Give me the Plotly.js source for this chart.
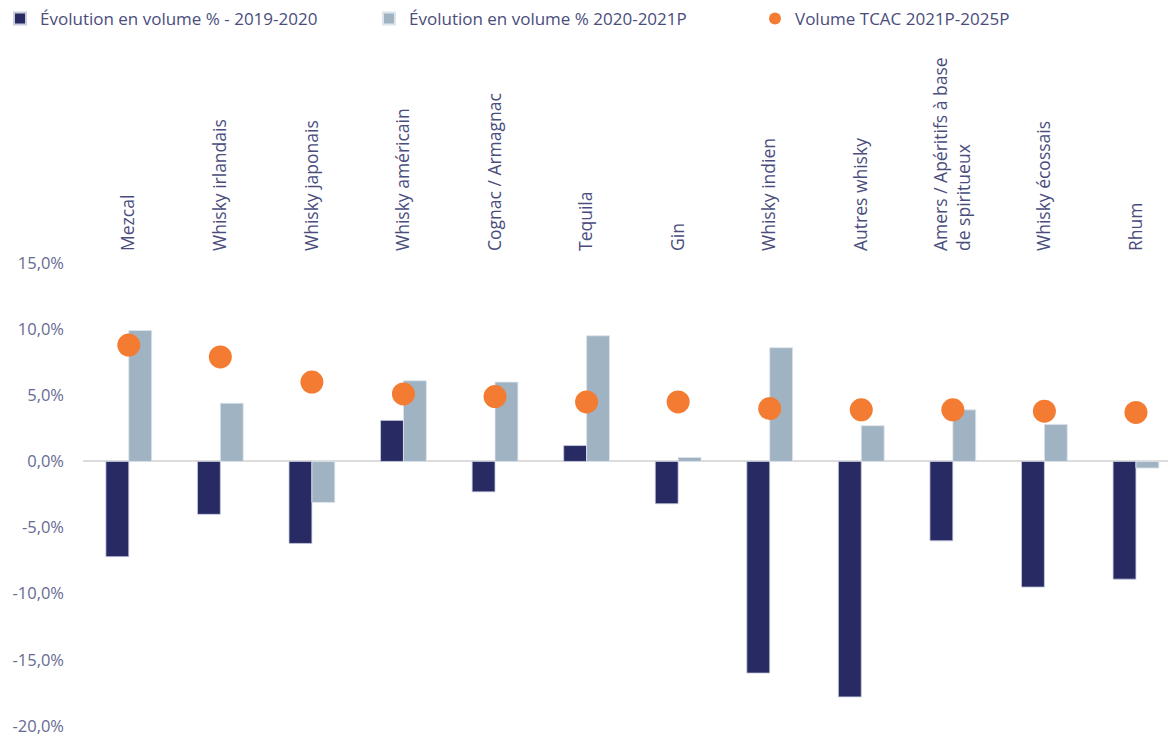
<!DOCTYPE html>
<html>
<head>
<meta charset="utf-8">
<script src="https://cdn.plot.ly/plotly-3.0.1.min.js"></script>
<style>html,body{margin:0;padding:0;background:#fff;}#chart{width:1168px;height:737px;}</style>
</head>
<body>
<div id="chart"></div>
<script>
const categories = ["Mezcal", "Whisky irlandais", "Whisky japonais", "Whisky américain", "Cognac / Armagnac", "Tequila", "Gin", "Whisky indien", "Autres whisky", "Amers / Apéritifs à base<br>de spiritueux", "Whisky écossais", "Rhum"];
const evol2019_2020 = [-7.2, -4.0, -6.2, 3.1, -2.3, 1.2, -3.2, -16.0, -17.8, -6.0, -9.5, -8.9];
const evol2020_2021P = [9.9, 4.4, -3.1, 6.1, 6.0, 9.5, 0.3, 8.6, 2.7, 3.9, 2.8, -0.5];
const tcac2021P_2025P = [8.8, 7.9, 6.0, 5.1, 4.9, 4.5, 4.5, 4.0, 3.9, 3.9, 3.8, 3.7];
const seriesNames = ["Évolution en volume % - 2019-2020", "Évolution en volume % 2020-2021P", "Volume TCAC 2021P-2025P"];
const yTickVals = [-20, -15, -10, -5, 0, 5, 10, 15];
const yTickText = ["-20,0%", "-15,0%", "-10,0%", "-5,0%", "0,0%", "5,0%", "10,0%", "15,0%"];

const traces = [
  {type: "bar", name: seriesNames[0], x: categories, y: evol2019_2020,
   marker: {color: "#282b63", line: {color: "#c9cde0", width: 0.8}}, legend: "legend"},
  {type: "bar", name: seriesNames[1], x: categories, y: evol2020_2021P,
   marker: {color: "#a0b3c3", line: {color: "#dfe5ec", width: 0.8}}, legend: "legend2"},
  {type: "scatter", mode: "markers", name: seriesNames[2], x: categories, y: tcac2021P_2025P,
   marker: {color: "#f37b32", size: 23}, legend: "legend3"}
];

const legendBase = {orientation: "h", xref: "container", yref: "container", yanchor: "middle", y: 1 - 19/737,
  font: {family: "Open Sans, sans-serif", size: 17, color: "#4a4d7c"}, itemsizing: "constant", itemwidth: 30, bgcolor: "rgba(0,0,0,0)"};

const layout = {
  width: 1168, height: 737,
  margin: {l: 83, r: 0, t: 263, b: 11},
  paper_bgcolor: "#ffffff", plot_bgcolor: "#ffffff",
  font: {family: "Open Sans, sans-serif", color: "#4a4d7c"},
  barmode: "group", bargap: 0.5, bargroupgap: 0,
  showlegend: true,
  legend: Object.assign({}, legendBase, {x: -15/1168, xanchor: "left"}),
  legend2: Object.assign({}, legendBase, {x: 369/1168, xanchor: "left"}),
  legend3: Object.assign({}, legendBase, {x: 755/1168, xanchor: "left"}),
  xaxis: {side: "top", tickangle: -90, range: [-0.5, 11.35], showgrid: false, showline: false, zeroline: false, ticks: "",
          tickfont: {family: "Open Sans, sans-serif", size: 17.5, color: "#4a4d7c"}, ticklabelstandoff: 11},
  yaxis: {range: [-20, 15], tickvals: yTickVals, ticktext: yTickText, showgrid: false, showline: false, ticks: "",
          zeroline: true, zerolinecolor: "#dcdcdc", zerolinewidth: 2, ticklabeloverflow: "allow",
          tickfont: {family: "Open Sans, sans-serif", size: 16.5, color: "#666b93"}, ticklabelstandoff: 18}
};

Plotly.newPlot("chart", traces, layout, {displayModeBar: false, staticPlot: true});
</script>
</body>
</html>
